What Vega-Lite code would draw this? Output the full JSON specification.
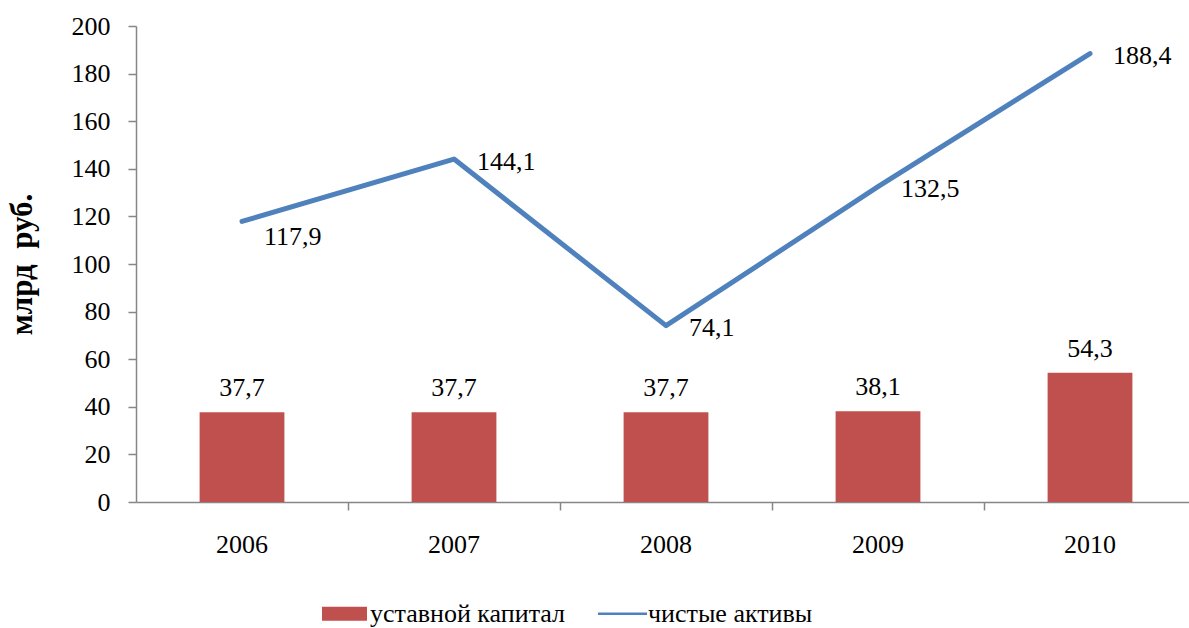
{
  "$schema": "https://vega.github.io/schema/vega-lite/v6.json",
  "width": 1053,
  "height": 476,
  "autosize": {"type": "none"},
  "padding": {"left": 136, "top": 26, "right": 0, "bottom": 126},
  "background": "white",
  "config": {
    "view": {"stroke": null},
    "font": "Liberation Serif",
    "locale": {"number": {"decimal": ",", "thousands": " ", "grouping": [3], "currency": ["", ""]}},
    "axis": {
      "domainColor": "#868686", "tickColor": "#868686", "domainWidth": 1.5, "tickWidth": 1.5,
      "tickSize": 8, "labelFont": "Liberation Serif", "labelFontSize": 26, "labelColor": "black",
      "grid": false, "titleFont": "Liberation Serif"
    },
    "axisY": {"labelPadding": 18, "titleFontSize": 31, "titleFontWeight": "bold", "titleColor": "black", "titlePadding": 33, "tickCount": 10},
    "axisX": {"labelPadding": 21, "labelAngle": 0, "bandPosition": 1.75}
  },
  "data": {"values": [
    {"year": "2006", "kapital": 37.7, "aktivy": 117.9},
    {"year": "2007", "kapital": 37.7, "aktivy": 144.1},
    {"year": "2008", "kapital": 37.7, "aktivy": 74.1},
    {"year": "2009", "kapital": 38.1, "aktivy": 132.5},
    {"year": "2010", "kapital": 54.3, "aktivy": 188.4}
  ]},
  "encoding": {
    "x": {"field": "year", "type": "ordinal", "title": null,
      "scale": {"range": [0, 1060], "paddingInner": 0.6, "paddingOuter": 0.3}}
  },
  "layer": [
    {
      "mark": {"type": "bar", "color": "#C0504D"},
      "encoding": {
        "y": {"field": "kapital", "type": "quantitative", "title": "млрд\u00a0\u00a0руб.", "scale": {"domain": [0, 200]}},
        "color": {"datum": "уставной капитал", "type": "nominal",
          "scale": {"domain": ["уставной капитал", "чистые активы"], "range": ["#C0504D", "#4F81BD"]},
          "legend": {
            "title": null, "orient": "none", "legendX": 186, "legendY": 565, "direction": "horizontal",
            "labelFont": "Liberation Serif", "labelFontSize": 26, "labelColor": "black", "labelLimit": 0,
            "symbolSize": 2025, "labelOffset": 3, "columnPadding": 31, "padding": 0,
            "encoding": {"symbols": {
              "shape": {"value": {"expr": "datum.value === 'уставной капитал' ? 'M-1,-0.31H1V0.31H-1Z' : 'M-1.09,-0.06H1.09V0.06H-1.09Z'"}},
              "fill": {"value": {"expr": "datum.value === 'уставной капитал' ? '#C0504D' : '#4F81BD'"}},
              "stroke": {"value": "transparent"},
              "strokeWidth": {"value": 0},
              "opacity": {"value": 1}
            }}
          }
        }
      }
    },
    {
      "mark": {"type": "text", "baseline": "alphabetic", "dy": -16, "fontSize": 26, "font": "Liberation Serif", "color": "black"},
      "encoding": {
        "y": {"field": "kapital", "type": "quantitative", "title": "млрд\u00a0\u00a0руб."},
        "text": {"field": "kapital", "type": "quantitative", "format": ".1f"}
      }
    },
    {
      "mark": {"type": "line", "strokeWidth": 5, "strokeCap": "round", "strokeJoin": "round"},
      "encoding": {
        "y": {"field": "aktivy", "type": "quantitative", "title": "млрд\u00a0\u00a0руб."},
        "color": {"datum": "чистые активы", "type": "nominal"}
      }
    },
    {
      "transform": [{"filter": "datum.year !== '2006'"}],
      "mark": {"type": "text", "align": "left", "baseline": "middle", "dx": 23, "dy": 2.5, "fontSize": 26, "font": "Liberation Serif", "color": "black"},
      "encoding": {
        "y": {"field": "aktivy", "type": "quantitative", "title": "млрд\u00a0\u00a0руб."},
        "text": {"field": "aktivy", "type": "quantitative", "format": ".1f"}
      }
    },
    {
      "transform": [{"filter": "datum.year === '2006'"}],
      "mark": {"type": "text", "align": "left", "baseline": "middle", "dx": 22, "dy": 16, "fontSize": 26, "font": "Liberation Serif", "color": "black"},
      "encoding": {
        "y": {"field": "aktivy", "type": "quantitative", "title": "млрд\u00a0\u00a0руб."},
        "text": {"field": "aktivy", "type": "quantitative", "format": ".1f"}
      }
    }
  ]
}
